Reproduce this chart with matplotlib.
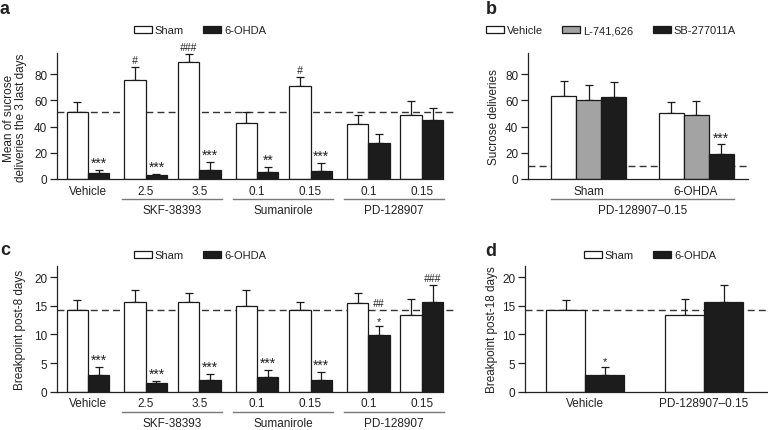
import numpy as np
import matplotlib
matplotlib.use('Agg')
import matplotlib.pyplot as plt
from matplotlib.patches import Patch
import matplotlib.transforms as mtransforms

plt.rcParams['font.family'] = ['Liberation Sans', 'DejaVu Sans']
plt.rcParams['font.size'] = 8
plt.rcParams['text.color'] = '#222222'
plt.rcParams['axes.edgecolor'] = '#222222'
plt.rcParams['xtick.color'] = '#222222'
plt.rcParams['ytick.color'] = '#222222'

# ---- panel a / c : dose groups ----
dose_labels = ['Vehicle', '2.5', '3.5', '0.1', '0.15', '0.1', '0.15']
dose_group = [0, 1, 1, 2, 2, 3, 3]
drug_names = ['SKF-38393', 'Sumanirole', 'PD-128907']

sham_a = [51.3, 75.7, 89.4, 42.7, 70.6, 42.2, 49.0]
sham_a_err = [7.1, 9.9, 5.8, 8.6, 7.4, 6.8, 10.7]
ohda_a = [4.6, 3.0, 6.6, 5.3, 5.8, 27.4, 44.7]
ohda_a_err = [2.5, 0.8, 6.6, 4.1, 6.2, 6.6, 9.6]
stars_a = ['***', '***', '***', '**', '***', '', '']
hash_sham_a = ['', '#', '###', '', '#', '', '']
hash_ohda_a = ['', '', '', '', '', '', '']
ref_a = 51.3

sham_c = [14.3, 15.7, 15.7, 14.9, 14.3, 15.45, 13.4]
sham_c_err = [1.7, 2.1, 1.6, 2.8, 1.3, 1.75, 2.7]
ohda_c = [3.0, 1.5, 2.0, 2.6, 2.0, 9.9, 15.7]
ohda_c_err = [1.4, 0.45, 1.05, 1.2, 1.4, 1.6, 2.95]
stars_c = ['***', '***', '***', '***', '***', '*', '']
hash_sham_c = ['', '', '', '', '', '', '']
hash_ohda_c = ['', '', '', '', '', '##', '###']
ref_c = 14.3

# ---- panel b ----
groups_b = ['Sham', '6-OHDA']
series_b = ['Vehicle', 'L-741,626', 'SB-277011A']
vals_b = [[63.5, 50.5], [60.0, 48.5], [62.2, 19.3]]
errs_b = [[11.4, 7.9], [11.6, 10.9], [11.4, 7.1]]
stars_b = [['', ''], ['', ''], ['', '***']]
ref_b = 10.1

# ---- panel d ----
groups_d = ['Vehicle', 'PD-128907\u20130.15']
sham_d = [14.3, 13.4]
sham_d_err = [1.7, 2.7]
ohda_d = [3.0, 15.7]
ohda_d_err = [1.4, 2.95]
stars_d = ['*', '']
ref_d = 14.3

EDGE = '#1a1a1a'
DARK = '#1c1c1c'
GRAY = '#a3a3a3'
LINE = '#7a7a7a'
W, H = 768, 431

fig = plt.figure(figsize=(W / 100, H / 100), dpi=100)


def px_axes(left, top, right, bottom):
    return fig.add_axes([left / W, 1 - bottom / H, (right - left) / W, (bottom - top) / H])


def style_axes(ax, ymax, yticks):
    ax.set_ylim(0, ymax)
    ax.set_yticks(yticks)
    for s in ['top', 'right']:
        ax.spines[s].set_visible(False)
    ax.spines['left'].set_linewidth(0.9)
    ax.spines['bottom'].set_linewidth(0.9)
    ax.tick_params(axis='y', length=5, width=0.9, pad=2, labelsize=8.5)
    ax.tick_params(axis='x', length=0, pad=4, labelsize=8.5)


def bars(ax, x, vals, errs, width, color):
    ax.bar(x, vals, width, color=color, edgecolor=EDGE, linewidth=0.9, zorder=2)
    ax.errorbar(x, vals, yerr=[np.zeros(len(vals)), errs], fmt='none', ecolor=EDGE,
                elinewidth=0.9, capsize=2.6, capthick=0.9, zorder=1)


def marks(ax, x, tops, labels, offset=0.0, italic=False):
    for xi, t, lab in zip(x, tops, labels):
        if not lab:
            continue
        if italic:
            ax.annotate(lab, (xi, t), xytext=(0, offset), textcoords='offset points',
                        ha='center', va='bottom', fontsize=7.5, style='italic')
        else:
            size = 10 if len(lab) > 1 else 8
            ax.annotate(lab, (xi, t), xytext=(0, offset), textcoords='offset points',
                        ha='center', va='bottom', fontsize=size)


def ref_line(ax, y, x0, x1):
    ax.plot([x0, x1], [y, y], color='#333333', lw=1.0, ls=(0, (5, 3)), zorder=0, clip_on=False)


def under_line(ax, x0, x1, y_ax, text, ty_ax):
    tr = mtransforms.blended_transform_factory(ax.transData, ax.transAxes)
    ax.plot([x0, x1], [y_ax, y_ax], color=LINE, lw=1.0, transform=tr, clip_on=False)
    ax.text((x0 + x1) / 2, ty_ax, text, transform=tr, ha='center', va='center', fontsize=8.5)


def add_legend(ax, names, colors, cx, cy):
    ax.legend(handles=[Patch(facecolor=c, edgecolor=EDGE, lw=0.9, label=n) for n, c in zip(names, colors)],
              loc='center', bbox_to_anchor=(cx / W, 1 - cy / H), bbox_transform=fig.transFigure,
              ncol=len(names), frameon=False, fontsize=8, handlelength=1.6, handleheight=0.6,
              handletextpad=0.28, columnspacing=1.75, borderpad=0)


def dose_panel(ax, sham, sham_err, ohda, ohda_err, stars, hs, ho, ref, ymax, yticks):
    pos = np.arange(len(sham)) + 0.08 * np.array(dose_group)
    bw = 0.4
    unit = 53.5
    xl = (57 - 88) / unit
    xr = (456 - 88) / unit
    style_axes(ax, ymax, yticks)
    ax.set_xlim(xl, xr)
    ax.spines['bottom'].set_bounds(xl, pos[-1] + bw)
    bars(ax, pos - bw / 2, sham, sham_err, bw, 'white')
    bars(ax, pos + bw / 2, ohda, ohda_err, bw, DARK)
    ref_line(ax, ref, xl, xr)
    ot = np.array(ohda) + np.array(ohda_err)
    st = np.array(sham) + np.array(sham_err)
    marks(ax, pos + bw / 2, ot, stars)
    marks(ax, pos - bw / 2, st, hs, offset=1.5, italic=True)
    for xi, t, lab, s in zip(pos + bw / 2, ot, ho, stars):
        if lab:
            off = 13 if s else 1.5
            ax.annotate(lab, (xi, t), xytext=(0, off), textcoords='offset points',
                        ha='center', va='bottom', fontsize=7.5, style='italic')
    ax.set_xticks(pos)
    ax.set_xticklabels(dose_labels)
    hgt = ax.get_position().height * H
    for g, name in enumerate(drug_names, start=1):
        idx = [i for i, d in enumerate(dose_group) if d == g]
        x0 = pos[idx[0]] - bw - 0.05
        x1 = pos[idx[-1]] + bw + 0.02
        under_line(ax, x0, x1, -20 / hgt, name, -31 / hgt)


# panel a
ax_a = px_axes(57, 54, 456, 180)
dose_panel(ax_a, sham_a, sham_a_err, ohda_a, ohda_a_err, stars_a, hash_sham_a, hash_ohda_a,
           ref_a, 96, [0, 20, 40, 60, 80])
fig.text(9 / W, 1 - 118 / H, 'Mean of sucrose', rotation=90, ha='center', va='center', fontsize=8.5)
fig.text(21 / W, 1 - 118 / H, 'deliveries the 3 last days', rotation=90, ha='center', va='center', fontsize=8.5)
add_legend(ax_a, ['Sham', '6-OHDA'], ['white', DARK], 200, 31)

# panel c
ax_c = px_axes(57, 266.7, 456, 392.7)
dose_panel(ax_c, sham_c, sham_c_err, ohda_c, ohda_c_err, stars_c, hash_sham_c, hash_ohda_c,
           ref_c, 22, [0, 5, 10, 15, 20])
fig.text(20 / W, 1 - 330 / H, 'Breakpoint post-8 days', rotation=90, ha='center', va='center', fontsize=8.5)
add_legend(ax_c, ['Sham', '6-OHDA'], ['white', DARK], 200, 256)

# panel b
ax_b = px_axes(528, 54, 748, 180)
style_axes(ax_b, 96, [0, 20, 40, 60, 80])
ub = 107.5
bw_b = 25 / ub
xb = np.arange(len(groups_b))
ax_b.set_xlim((528 - 588.5) / ub, (748 - 588.5) / ub)
colors_b = ['white', GRAY, DARK]
for k in range(len(series_b)):
    xk = xb + (k - 1) * bw_b
    bars(ax_b, xk, vals_b[k], errs_b[k], bw_b, colors_b[k])
    marks(ax_b, xk, np.array(vals_b[k]) + np.array(errs_b[k]), stars_b[k])
ref_line(ax_b, ref_b, *ax_b.get_xlim())
ax_b.set_xticks(xb)
ax_b.set_xticklabels(groups_b)
under_line(ax_b, xb[0] - 1.5 * bw_b, xb[-1] + 1.5 * bw_b, -20 / 126, 'PD-128907\u20130.15', -31 / 126)
fig.text(494 / W, 1 - 117 / H, 'Sucrose deliveries', rotation=90, ha='center', va='center', fontsize=8.5)
add_legend(ax_b, series_b, colors_b, 611, 31)

# panel d
ax_d = px_axes(525, 266.7, 768, 392.7)
style_axes(ax_d, 22, [0, 5, 10, 15, 20])
ud = 119
bw_d = 39 / ud
xd = np.arange(len(groups_d))
ax_d.set_xlim((525 - 585) / ud, (768 - 585) / ud)
bars(ax_d, xd - bw_d / 2, sham_d, sham_d_err, bw_d, 'white')
bars(ax_d, xd + bw_d / 2, ohda_d, ohda_d_err, bw_d, DARK)
marks(ax_d, xd + bw_d / 2, np.array(ohda_d) + np.array(ohda_d_err), stars_d)
ref_line(ax_d, ref_d, *ax_d.get_xlim())
ax_d.set_xticks(xd)
ax_d.set_xticklabels(groups_d)
fig.text(492 / W, 1 - 330 / H, 'Breakpoint post-18 days', rotation=90, ha='center', va='center', fontsize=8.5)
add_legend(ax_d, ['Sham', '6-OHDA'], ['white', DARK], 650, 256)

# panel letters
for lab, (px, py) in zip('abcd', [(4, 10), (491, 9.5), (5, 251), (491, 252)]):
    fig.text(px / W, 1 - py / H, lab, ha='center', va='center', fontsize=13, fontweight='bold')

fig.savefig('out.png', dpi=100)
